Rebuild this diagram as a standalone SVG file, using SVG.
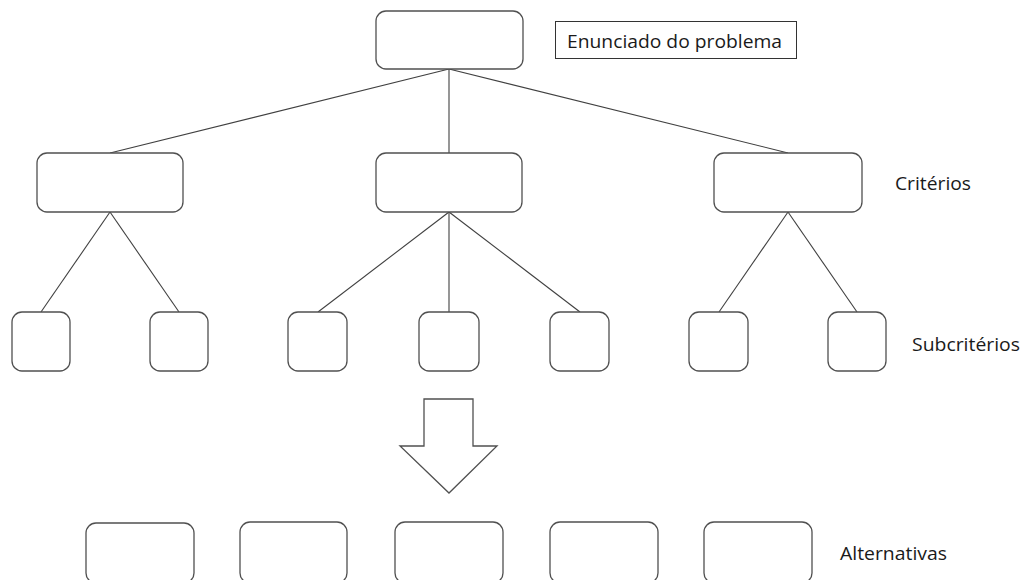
<svg xmlns="http://www.w3.org/2000/svg" width="1025" height="580" viewBox="0 0 1025 580">
<style>
.box{fill:#fff;stroke:#505050;stroke-width:1.3}
.edge{stroke:#404040;stroke-width:1.1;fill:none}
.lbl{font-family:"Open Sans","Liberation Sans",sans-serif;font-size:19px;fill:#1a1a1a}
</style>
<rect width="1025" height="580" fill="#fff"/>
<g id="connectors">
<line class="edge" x1="449" y1="69" x2="110" y2="153"/>
<line class="edge" x1="449" y1="69" x2="449" y2="153"/>
<line class="edge" x1="449" y1="69" x2="788" y2="153"/>
<line class="edge" x1="110" y1="212" x2="41" y2="312"/>
<line class="edge" x1="110" y1="212" x2="179" y2="312"/>
<line class="edge" x1="449" y1="212" x2="318" y2="312"/>
<line class="edge" x1="449" y1="212" x2="449" y2="312"/>
<line class="edge" x1="449" y1="212" x2="580" y2="312"/>
<line class="edge" x1="788" y1="212" x2="719" y2="312"/>
<line class="edge" x1="788" y1="212" x2="857" y2="312"/>
</g>
<g id="goal"><rect class="box" x="376" y="11" width="147" height="58" rx="10"/></g>
<g id="goal-label"><rect x="555.5" y="21.5" width="241" height="37" fill="#fff" stroke="#333" stroke-width="1"/><text class="lbl" x="567" y="48" textLength="215" lengthAdjust="spacingAndGlyphs">Enunciado do problema</text></g>
<g id="crit1"><rect class="box" x="37" y="153" width="146" height="59" rx="10"/></g>
<g id="crit2"><rect class="box" x="376" y="153" width="146" height="59" rx="10"/></g>
<g id="crit3"><rect class="box" x="714" y="153" width="148" height="59" rx="10"/></g>
<g id="criterios-label"><text class="lbl" x="895" y="190" textLength="76" lengthAdjust="spacingAndGlyphs">Critérios</text></g>
<g id="sub1"><rect class="box" x="12" y="312" width="58" height="59" rx="10"/></g>
<g id="sub2"><rect class="box" x="150" y="312" width="58" height="59" rx="10"/></g>
<g id="sub3"><rect class="box" x="288" y="312" width="59" height="59" rx="10"/></g>
<g id="sub4"><rect class="box" x="419" y="312" width="60" height="59" rx="10"/></g>
<g id="sub5"><rect class="box" x="550" y="312" width="59" height="59" rx="10"/></g>
<g id="sub6"><rect class="box" x="689" y="312" width="59" height="59" rx="10"/></g>
<g id="sub7"><rect class="box" x="828" y="312" width="58" height="59" rx="10"/></g>
<g id="subcriterios-label"><text class="lbl" x="912" y="351" textLength="108" lengthAdjust="spacingAndGlyphs">Subcritérios</text></g>
<g id="arrow"><polygon class="box" points="424,399 473,399 473,446 497,446 449,493 400,446 424,446"/></g>
<g id="alt1"><rect class="box" x="86" y="523" width="108" height="60" rx="10"/></g>
<g id="alt2"><rect class="box" x="240" y="522" width="107" height="61" rx="10"/></g>
<g id="alt3"><rect class="box" x="395" y="522" width="108" height="61" rx="10"/></g>
<g id="alt4"><rect class="box" x="550" y="522" width="108" height="61" rx="10"/></g>
<g id="alt5"><rect class="box" x="704" y="522" width="108" height="61" rx="10"/></g>
<g id="alternativas-label"><text class="lbl" x="840" y="560" textLength="107" lengthAdjust="spacingAndGlyphs">Alternativas</text></g>
</svg>
